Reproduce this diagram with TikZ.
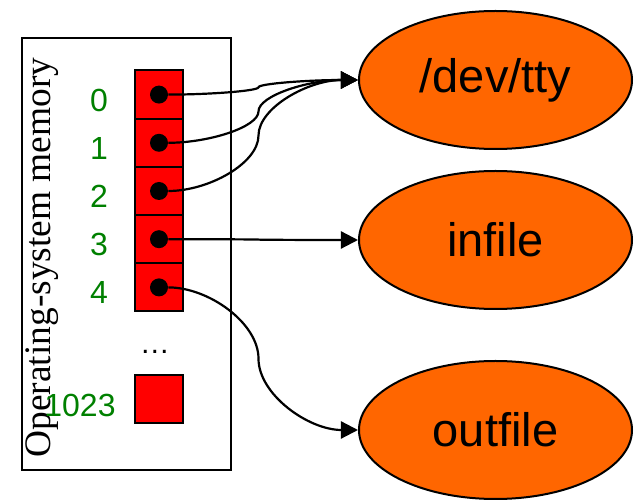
\documentclass[tikz,border=0pt]{standalone}
\usepackage{fontspec}
\setmainfont{Liberation Sans}
\newfontfamily\memfont{Liberation Serif}
\usetikzlibrary{shapes.geometric, arrows.meta, positioning, calc}
\definecolor{fileorange}{RGB}{255,102,0}
\definecolor{fdgreen}{RGB}{0,128,0}

\begin{document}
\begin{tikzpicture}[
			x=0.5pt, y=-0.5pt,
			cell/.style={draw, fill=red, line width=1pt, minimum width=24pt, minimum height=24.1pt, inner sep=0pt},
			dot/.style={circle, fill=black, minimum size=9pt, inner sep=0pt},
			num/.style={text=fdgreen, inner sep=0pt, font=\fontsize{16pt}{19pt}\selectfont},
			file/.style={ellipse, draw, fill=fileorange, line width=1pt, minimum width=136.5pt, minimum height=69pt, inner sep=0pt, font=\fontsize{23.5pt}{28pt}\selectfont},
			conn/.style={to path={let \p1=(\tikztostart), \p2=(\tikztotarget) in
				.. controls ({(3*\x1+\x2)/4},\y1) and ({(\x1+\x2)/2},{(3*\y1+\y2)/4}) .. ({(\x1+\x2)/2},{(\y1+\y2)/2})
				.. controls ({(\x1+\x2)/2},{(\y1+3*\y2)/4}) and ({(\x1+3*\x2)/4},\y2) .. (\tikztotarget)}},
			arrow/.style={-{Triangle[length=8.5pt, width=8.5pt]}, line width=1.1pt, conn}
			]
			\useasboundingbox (0,0) rectangle (634,502);
			
			% Memory
			\node (mem) [draw, line width=1pt, minimum width=104.5pt, minimum height=216pt, inner sep=0pt] at (126.5,254) {};
			\node (memlabel) [rotate=90, anchor=base, inner sep=0pt, font=\memfont\fontsize{18.7pt}{22pt}\selectfont] at (50,257.5) {Operating-system memory};
			\foreach \i in {0,...,4} {
				\node (c\i) [cell] at (159,{94.6+48.2*\i}) {};
				\node (d\i) [dot] at (c\i) {};
				\node (n\i) [num] at (99,{100+48.2*\i}) {\i};
			}
			\node (more) [anchor=base, inner sep=0pt, font=\fontsize{15pt}{18pt}\selectfont] at (155,354) {…};
			\node (c1023) [cell, minimum height=24pt] at (159,399) {};
			\node (n1023) [num] at (80,405) {1023};
			
			% Files
			\node (tty) [file] at (495.5,80) {/dev/tty};
			\node (infile) [file, below=10pt of tty] {infile};
			\node (outfile) [file, below=25pt of infile] {outfile};
			
			% Connections
			\draw [arrow] (d0) to (tty.west);
			\draw [arrow] (d1) to (tty.west);
			\draw [arrow] (d2) to (tty.west);
			\draw [arrow] (d3) to (infile.west);
			\draw [arrow] (d4) to (outfile.west);
			
\end{tikzpicture}
\end{document}
